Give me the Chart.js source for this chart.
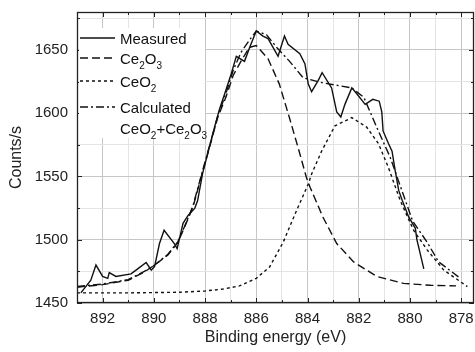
<!DOCTYPE html>
<html>
<head>
<meta charset="utf-8">
<script src="https://cdn.jsdelivr.net/npm/chart.js@4.4.1/dist/chart.umd.min.js"></script>
<style>
  html, body { margin: 0; padding: 0; background: #fff; }
  #wrap { width: 475px; height: 352px; }
</style>
</head>
<body>
<div id="wrap"><canvas id="xps"></canvas></div>
<script>
// binding energy (eV) / counts per second
const measuredE = [892.85, 892.46, 892.26, 892.0, 891.8, 891.74, 891.48, 890.89, 890.63, 890.3, 890.1, 889.97,
  889.78, 889.6, 889.2, 889.09, 888.86, 888.67, 888.4, 888.29, 888.1, 887.9, 887.63, 887.44, 887.24, 886.98,
  886.78, 886.46, 886.26, 886.0, 885.74, 885.54, 885.15, 884.9, 884.76, 884.3, 884.1, 883.97, 883.84, 883.58,
  883.43, 883.06, 882.86, 882.7, 882.54, 882.27, 882.1, 881.75, 881.45, 881.2, 881.1, 881.05, 880.84, 880.7,
  880.58, 880.44, 880.3, 880.05, 879.79, 879.73, 879.6, 879.46];
const measuredC = [1458, 1468, 1480, 1471, 1469.5, 1474, 1471, 1473, 1477, 1482, 1476, 1479,
  1497, 1507.5, 1497, 1493, 1513, 1519, 1525, 1531, 1552, 1568, 1589, 1603, 1615, 1631,
  1645, 1641, 1652, 1665, 1661, 1659, 1645, 1661, 1654.5, 1647, 1639, 1623, 1617, 1626,
  1632, 1620, 1601, 1597, 1607, 1620, 1616, 1607, 1611, 1609.5, 1601, 1586, 1576, 1570,
  1555, 1539, 1531, 1518, 1509, 1500, 1489, 1477];

const ce2o3E = [893.0, 892.0, 891.0, 890.37, 889.97, 889.45, 889.06, 888.8, 888.47, 888.16, 887.8, 887.5,
  887.18, 886.9, 886.6, 886.27, 886.0, 885.54, 885.1, 884.7, 884.37, 884.04, 883.9, 883.4, 882.86, 882.2,
  881.3, 880.25, 879.2, 878.2];
const ce2o3C = [1462.5, 1464.5, 1468, 1474.5, 1480, 1488, 1498, 1510, 1526, 1549, 1575, 1597,
  1613, 1630, 1641, 1652, 1653.5, 1643, 1623, 1596, 1573, 1549, 1541.5, 1518, 1497, 1482.5,
  1471, 1465.5, 1464, 1463.5];

const ceo2E = [893.0, 891.0, 889.0, 888.0, 887.3, 886.66, 886.0, 885.48, 884.95, 884.43, 883.97, 883.84,
  883.45, 882.93, 882.27, 881.69, 881.23, 880.84, 880.38, 879.86, 879.33, 878.68, 877.76];
const ceo2C = [1458, 1458, 1458.5, 1459.5, 1461, 1463.5, 1469.5, 1478.5, 1498, 1523, 1544, 1552,
  1570, 1590, 1596.5, 1589, 1576, 1557, 1531, 1507.5, 1492, 1476, 1463];

const calcE = [893.0, 892.0, 891.0, 890.37, 889.97, 889.45, 889.06, 888.8, 888.47, 888.16, 887.8, 887.5,
  887.18, 886.9, 886.6, 886.26, 886.0, 885.6, 885.2, 884.7, 884.17, 883.4, 882.27, 881.8, 881.3, 880.77,
  880.5, 879.9, 879.33, 878.88, 878.03];
const calcC = [1463, 1465, 1468.5, 1475, 1480, 1488.5, 1498.5, 1510.5, 1527, 1550, 1576, 1598,
  1616, 1634, 1648, 1658, 1665, 1662, 1652, 1641, 1628, 1624, 1620, 1612.5, 1589, 1565,
  1549.5, 1515, 1498, 1482.5, 1469.5];

const xTicks = [878, 879, 880, 881, 882, 883, 884, 885, 886, 887, 888, 889, 890, 891, 892, 893];
const yTicks = [1450, 1475, 1500, 1525, 1550, 1575, 1600, 1625, 1650, 1675];

// legend entries: text pieces, second item of each piece = subscript flag
const legendItems = [
  { y: 38, dash: [], parts: [[["Measured", 0]]] },
  { y: 58, dash: [8, 4], parts: [[["Ce", 0], ["2", 1], ["O", 0], ["3", 1]]] },
  { y: 81, dash: [3, 3], parts: [[["CeO", 0], ["2", 1]]] },
  { y: 107, dash: [8, 3, 2, 3], parts: [[["Calculated", 0]], [["CeO", 0], ["2", 1], ["+Ce", 0], ["2", 1], ["O", 0], ["3", 1]]] },
];

const FONT = "'Liberation Sans', Arial, sans-serif";

function pts(xs, ys) {
  return xs.map((x, i) => ({ x: x, y: ys[i] }));
}

function lineSet(label, xs, ys, dash) {
  return {
    label: label,
    data: pts(xs, ys),
    showLine: true,
    borderColor: "#111",
    borderWidth: 1.4,
    borderDash: dash,
    pointRadius: 0,
    tension: 0,
  };
}

/* frame + ticks pointing inward on all four sides, then the legend box */
const framePlugin = {
  id: "frame",
  afterDatasetsDraw(chart) {
    const ctx = chart.ctx;
    const a = chart.chartArea;
    const xs = chart.scales.x;
    const ys = chart.scales.y;
    ctx.save();
    ctx.strokeStyle = "#222";
    ctx.lineWidth = 1;
    ctx.setLineDash([]);
    ctx.beginPath();
    xTicks.forEach((v) => {
      const px = Math.round(xs.getPixelForValue(v)) + 0.5;
      const len = v % 2 === 0 ? 5 : 3;
      ctx.moveTo(px, a.bottom); ctx.lineTo(px, a.bottom - len);
      ctx.moveTo(px, a.top); ctx.lineTo(px, a.top + len);
    });
    yTicks.forEach((v) => {
      const py = Math.round(ys.getPixelForValue(v)) + 0.5;
      const len = v % 50 === 0 ? 5 : 3;
      ctx.moveTo(a.left, py); ctx.lineTo(a.left + len, py);
      ctx.moveTo(a.right, py); ctx.lineTo(a.right - len, py);
    });
    ctx.stroke();
    ctx.lineWidth = 1.3;
    ctx.strokeRect(a.left + 0.5, a.top + 0.5, a.right - a.left - 1, a.bottom - a.top - 1);

    // legend
    ctx.fillStyle = "#fff";
    ctx.fillRect(a.left + 2, 28, 126, 110);
    legendItems.forEach((item) => {
      ctx.strokeStyle = "#111";
      ctx.lineWidth = 1.4;
      ctx.setLineDash(item.dash);
      ctx.beginPath();
      ctx.moveTo(80, item.y);
      ctx.lineTo(115, item.y);
      ctx.stroke();
      ctx.setLineDash([]);
      ctx.fillStyle = "#111";
      ctx.textBaseline = "alphabetic";
      item.parts.forEach((line, li) => {
        let tx = 120;
        const base = item.y + 5.5 + li * 21;
        line.forEach(([txt, sub]) => {
          ctx.font = sub ? "10px " + FONT : "15px " + FONT;
          ctx.fillText(txt, tx, sub ? base + 5 : base);
          tx += ctx.measureText(txt).width;
        });
      });
    });
    ctx.restore();
  },
};

new Chart(document.getElementById("xps"), {
  type: "scatter",
  data: {
    datasets: [
      lineSet("Measured", measuredE, measuredC, []),
      lineSet("Ce2O3", ce2o3E, ce2o3C, [8, 4]),
      lineSet("CeO2", ceo2E, ceo2C, [3, 3]),
      lineSet("Calculated", calcE, calcC, [8, 3, 2, 3]),
    ],
  },
  options: {
    responsive: true,
    maintainAspectRatio: false,
    animation: false,
    layout: { padding: { top: 12, right: 1, left: 0, bottom: 0 } },
    plugins: { legend: { display: false }, tooltip: { enabled: false } },
    scales: {
      x: {
        type: "linear",
        reverse: true,
        min: 877.5,
        max: 893,
        afterBuildTicks: (s) => { s.ticks = xTicks.map((v) => ({ value: v })); },
        afterFit: (s) => { s.height = 49; s.paddingLeft = 0; s.paddingRight = 0; },
        grid: {
          drawTicks: false,
          color: (c) => (c.tick && c.tick.value % 2 === 0 ? "#c6c6c6" : "#e4e4e4"),
        },
        border: { display: false },
        ticks: {
          autoSkip: false,
          maxRotation: 0,
          padding: 7,
          color: "#222",
          font: { family: FONT, size: 15 },
          callback: (v) => (v % 2 === 0 ? String(v) : ""),
        },
        title: {
          display: true,
          text: "Binding energy (eV)",
          color: "#222",
          font: { family: FONT, size: 16 },
          padding: { top: 0, bottom: 5 },
        },
      },
      y: {
        min: 1450,
        max: 1680,
        afterBuildTicks: (s) => { s.ticks = yTicks.map((v) => ({ value: v })); },
        afterFit: (s) => { s.width = 77; s.paddingTop = 0; s.paddingBottom = 0; },
        grid: {
          drawTicks: false,
          color: (c) => (c.tick && c.tick.value % 50 === 0 ? "#c6c6c6" : "#e4e4e4"),
        },
        border: { display: false },
        ticks: {
          autoSkip: false,
          padding: 9,
          color: "#222",
          font: { family: FONT, size: 15 },
          callback: (v) => (v % 50 === 0 ? String(v) : ""),
        },
        title: {
          display: true,
          text: "Counts/s",
          color: "#222",
          font: { family: FONT, size: 16 },
          padding: { top: 7, bottom: 0 },
        },
      },
    },
  },
  plugins: [framePlugin],
});
</script>
</body>
</html>
